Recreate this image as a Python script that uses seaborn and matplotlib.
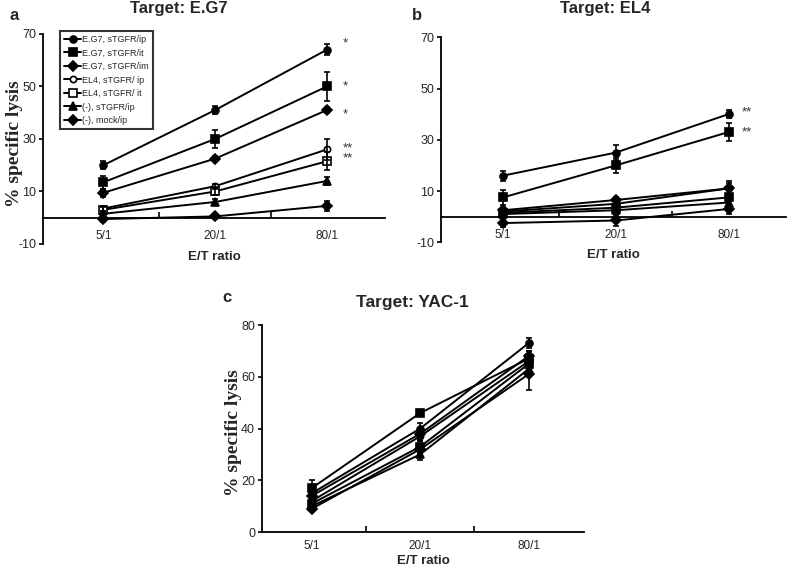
import numpy as np
import pandas as pd
import matplotlib
matplotlib.use("Agg")
import matplotlib.pyplot as plt
import seaborn as sns

# ---------------- data ----------------
ratios = ["5/1", "20/1", "80/1"]
series = ["E.G7, sTGFR/ip", "E.G7, sTGFR/it", "E.G7, sTGFR/im",
          "EL4, sTGFR/ ip", "EL4, sTGFR/ it", "(-), sTGFR/ip", "(-), mock/ip"]

# panel a: Target E.G7
lysis_a = [[20, 41, 64], [13.5, 30, 50], [9.5, 22.5, 41], [3.5, 12, 26],
           [3, 10, 21.5], [1.5, 6, 14], [-0.5, 0.5, 4.5]]
err_a = [[1.5, 1.5, 2], [2.5, 3.5, 5.5], [1.5, 1, 1], [1, 1, 4],
         [1, 1.5, 3.5], [1, 1, 1.5], [1, 1, 2]]
stars_a = ["*", "*", "*", "**\n**"]
stars_a_y = [66.5, 50, 39.5, 24.6]

# panel b: Target EL4
lysis_b = [[16, 25, 40], [7.5, 20, 33], [2.5, 6.5, 11], [2, 5, 11],
           [1.5, 3.5, 7.5], [1, 2.5, 5.5], [-2.5, -1.5, 3]]
err_b = [[2, 3, 1.5], [3, 3, 3.5], [1, 1, 3], [1, 1, 2],
         [1, 1, 1.5], [1, 1, 1.5], [1.5, 2, 2]]
stars_b = ["**", "**"]
stars_b_y = [40.5, 33]

# panel c: Target YAC-1
lysis_c = [[15, 40, 73], [17, 46, 67], [14, 38, 68], [12, 37, 66],
           [11, 33, 65], [10, 30, 63], [9, 32, 61]]
err_c = [[2, 2, 2], [3, 1, 3], [2, 2, 2], [2, 2, 2],
         [1.5, 2, 2], [1.5, 2, 2], [1, 2, 6]]

titles = ["Target: E.G7", "Target: EL4", "Target: YAC-1"]
letters = ["a", "b", "c"]

# ---------------- style ----------------
sns.set_style("ticks")
plt.rcParams['font.family'] = ['Liberation Sans', 'DejaVu Sans']
plt.rcParams['axes.unicode_minus'] = False

markers = ['o', 's', 'D', 'o', 's', '^', 'D']
msizes = [5, 6, 5.5, 4.5, 6, 6, 5.5]

fig = plt.figure(figsize=(7.87, 5.67), dpi=100)
ax_a = fig.add_axes([0.0546, 0.5697, 0.4346, 0.3704])
ax_b = fig.add_axes([0.5604, 0.5727, 0.4384, 0.3616])
ax_c = fig.add_axes([0.3329, 0.0617, 0.4091, 0.3651])

pos = np.arange(1, len(ratios) + 1)


def draw(ax, lysis, err, open_el4):
    for i, name in enumerate(series):
        df = pd.DataFrame({"pos": pos, "val": lysis[i]})
        face = 'white' if (open_el4 and i in (3, 4)) else 'black'
        sns.lineplot(data=df, x="pos", y="val", ax=ax, color='black',
                     lw=1.4, marker=markers[i], markersize=msizes[i],
                     markerfacecolor=face, markeredgecolor='black',
                     markeredgewidth=1.2, label=name, zorder=3)
        ax.errorbar(pos, lysis[i], yerr=err[i], fmt='none', ecolor='black',
                    elinewidth=1.2, capsize=2.5, capthick=1.2, zorder=4)


def style_axes(ax, ylim, yticks, zero_axis, xpad, lpad):
    ax.set_xlim(0.46, 3.52)
    ax.set_ylim(*ylim)
    ax.set_yticks(yticks)
    ax.set_xticks(pos)
    ax.set_xticklabels(ratios)
    ax.set_xticks([1.5, 2.5], minor=True)
    for s in ['top', 'right']:
        ax.spines[s].set_visible(False)
    for s in ['left', 'bottom']:
        ax.spines[s].set_linewidth(1.3)
        ax.spines[s].set_color('black')
    if zero_axis:
        ax.spines['bottom'].set_position(('data', 0))
    ax.tick_params(axis='x', which='major', length=0, pad=xpad, labelsize=8.5)
    ax.tick_params(axis='x', which='minor', direction='in', length=4,
                   width=1.2, color='black')
    ax.tick_params(axis='y', length=3, width=1.2, color='black',
                   labelsize=9, pad=2)
    ax.set_xlabel("E/T ratio", fontsize=9.5, fontweight='bold', labelpad=lpad)
    ax.grid(False)


draw(ax_a, lysis_a, err_a, True)
draw(ax_b, lysis_b, err_b, False)
draw(ax_c, lysis_c, err_c, False)

style_axes(ax_a, (-10, 70), [-10, 10, 30, 50, 70], True, 9, 6)
style_axes(ax_b, (-10, 70), [-10, 10, 30, 50, 70], True, 9, 6)
style_axes(ax_c, (0, 80), [0, 20, 40, 60, 80], False, 6, 2)
ax_b.set_xlim(0.45, 3.51)
ax_c.set_xlim(0.54, 3.51)

ylab_font = dict(family=['Liberation Serif', 'DejaVu Serif'],
                 fontsize=14, fontweight='bold')
ax_a.set_ylabel("% specific lysis", **ylab_font)
ax_a.yaxis.set_label_coords(-0.057, 0.479)
ax_b.set_ylabel("")
ax_c.set_ylabel("% specific lysis", **ylab_font)
ax_c.yaxis.set_label_coords(-0.063, 0.48)

ax_b.get_legend().remove()
ax_c.get_legend().remove()
leg = ax_a.legend(loc='upper left', bbox_to_anchor=(0.05, 1.014),
                  fontsize=6.5, handlelength=1.9, handletextpad=0.1,
                  labelspacing=0.5, borderpad=0.45, frameon=True,
                  fancybox=False, edgecolor='black', borderaxespad=0)
leg.get_frame().set_linewidth(1.5)

for s, y in zip(stars_a, stars_a_y):
    ax_a.text(3.14, y, s, fontsize=9.5, ha='left', va='center',
              color='#333333', linespacing=0.75)
for s, y in zip(stars_b, stars_b_y):
    ax_b.text(3.12, y, s, fontsize=9.5, ha='left', va='center',
              color='#333333')

# titles and panel letters (figure coordinates)
fig.text(179 / 787, 1 - 8 / 567, titles[0], ha='center', va='center',
         fontsize=12, fontweight='bold')
fig.text(605 / 787, 1 - 8 / 567, titles[1], ha='center', va='center',
         fontsize=12, fontweight='bold')
fig.text(412 / 787, 1 - 302 / 567, titles[2], ha='center', va='center',
         fontsize=12.5, fontweight='bold')
fig.text(14 / 787, 1 - 15 / 567, letters[0], ha='center', va='center',
         fontsize=12, fontweight='bold')
fig.text(417 / 787, 1 - 15 / 567, letters[1], ha='center', va='center',
         fontsize=12, fontweight='bold')
fig.text(227 / 787, 1 - 298 / 567, letters[2], ha='center', va='center',
         fontsize=12, fontweight='bold')

fig.savefig("out.png", dpi=100)
